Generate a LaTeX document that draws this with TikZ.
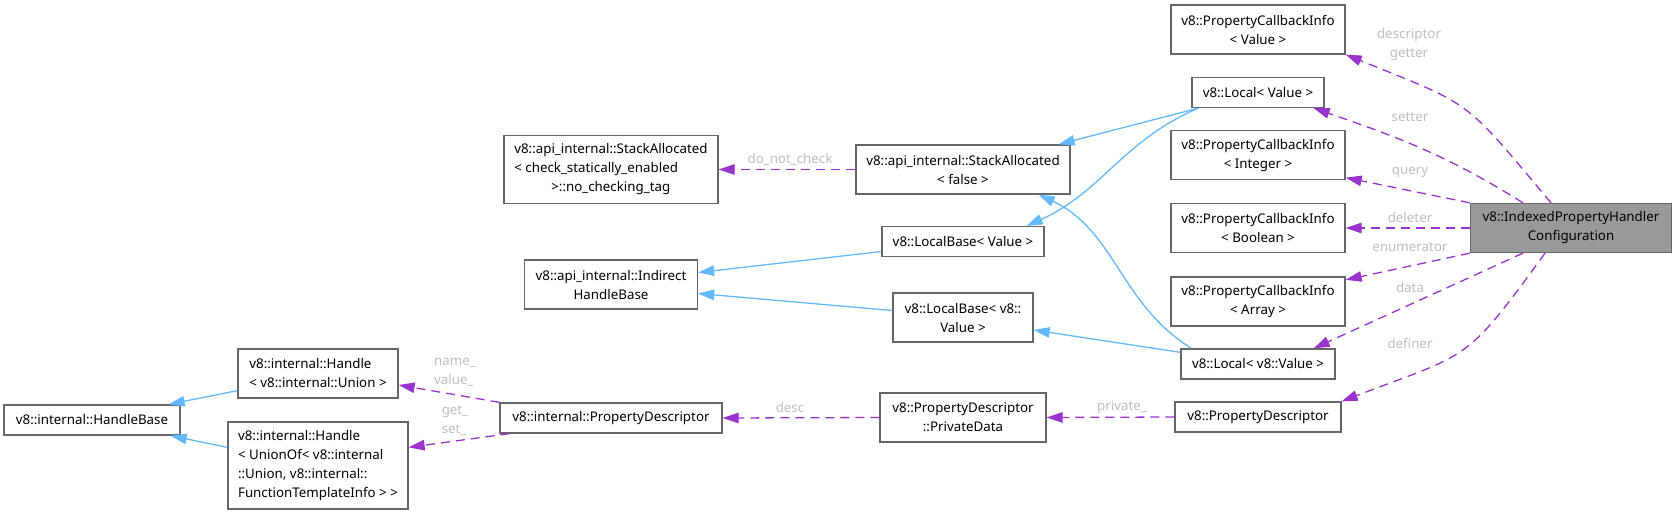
\documentclass[tikz,border=0pt]{standalone}
\usepackage{fontspec}
\setmainfont{Noto Sans}
\usepackage{tikz}
\usetikzlibrary{arrows.meta}

\definecolor{boxgray}{HTML}{666666}
\definecolor{selgray}{HTML}{999999}
\definecolor{inhblue}{HTML}{63B8FF}
\definecolor{usepurple}{HTML}{9A32CD}
\definecolor{lblgray}{HTML}{BEBEBE}

\begin{document}
\begin{tikzpicture}[x=1pt, y=-1pt, >={Triangle[length=16pt,width=10.5pt]},
    font=\fontsize{13.33}{19}\selectfont,
    cls/.style={draw=boxgray, fill=white, line width=1.3pt, align=center, inner sep=0pt},
    one/.style={minimum height=30pt},
    two/.style={minimum height=49pt},
    three/.style={minimum height=68pt},
    four/.style={minimum height=87pt},
    inh/.style={->, inhblue, line width=1.3pt},
    uses/.style={->, usepurple, line width=1.3pt, dash pattern=on 9pt off 6pt},
    lbl/.style={text=lblgray, inner sep=0pt, align=center}]
    \useasboundingbox (0,0) rectangle (1677,514);

    % Các lớp
    \node[cls, two, minimum width=201pt, fill=selgray] (iphc) at (1571,228) {v8::IndexedPropertyHandler\\Configuration};
    \node[cls, two, minimum width=174pt] (pciv) at (1258,29.5) {v8::PropertyCallbackInfo\\< Value >};
    \node[cls, one, minimum width=132pt] (lv) at (1258,92.5) {v8::Local< Value >};
    \node[cls, two, minimum width=174pt] (pcii) at (1258,155) {v8::PropertyCallbackInfo\\< Integer >};
    \node[cls, two, minimum width=174pt] (pcib) at (1258,228) {v8::PropertyCallbackInfo\\< Boolean >};
    \node[cls, two, minimum width=174pt] (pcia) at (1258,301.5) {v8::PropertyCallbackInfo\\< Array >};
    \node[cls, one, minimum width=154pt] (lvv) at (1258,364) {v8::Local< v8::Value >};
    \node[cls, one, minimum width=166pt] (pd) at (1258,417) {v8::PropertyDescriptor};

    \node[cls, two, minimum width=214pt] (saf) at (963,169.5) {v8::api\_internal::StackAllocated\\< false >};
    \node[cls, one, minimum width=162pt] (lbv) at (963,241.5) {v8::LocalBase< Value >};
    \node[cls, two, minimum width=140pt] (lbvv) at (963,317.5) {v8::LocalBase< v8::\\Value >};
    \node[cls, two, minimum width=166pt] (ppd) at (963,417.5) {v8::PropertyDescriptor\\::PrivateData};

    \node[cls, three, minimum width=214pt, align=left] (sac) at (611,169.5) {v8::api\_internal::StackAllocated\\< check\_statically\_enabled\\\hspace*{37pt}>::no\_checking\_tag};
    \node[cls, two, minimum width=173pt] (ihb) at (611,284.5) {v8::api\_internal::Indirect\\HandleBase};
    \node[cls, one, minimum width=222pt] (ipd) at (611,418) {v8::internal::PropertyDescriptor};

    \node[cls, two, minimum width=160pt, align=left] (hu) at (318,373.5) {v8::internal::Handle\\< v8::internal::Union >};
    \node[cls, four, minimum width=180pt, align=left] (huo) at (318,465.5) {v8::internal::Handle\\< UnionOf< v8::internal\\::Union, v8::internal::\\FunctionTemplateInfo > >};
    \node[cls, one, minimum width=176pt] (hb) at (92,420) {v8::internal::HandleBase};

    % Kế thừa
    \draw[inh] ([xshift=7pt]lv.south west) -- ([xshift=-12pt]saf.north east);
    \draw[inh] ([xshift=7pt]lv.south west) to[out=203,in=24] ([xshift=-18pt]lbv.north east);
    \draw[inh] ([xshift=11pt]lvv.north west) to[out=148,in=-25] ([xshift=-32pt]saf.south east);
    \draw[inh] ([yshift=-4pt]lvv.north west) -- ([yshift=-12.5pt]lbvv.east);
    \draw[inh] ([yshift=-10pt]lbv.west) -- ([yshift=12pt]ihb.east);
    \draw[inh] ([yshift=7pt]lbvv.west) -- ([yshift=-9pt]ihb.east);
    \draw[inh] ([yshift=8pt]hu.south west) -- ([xshift=-12pt]hb.north east);
    \draw[inh] ([yshift=-26pt]huo.north west) -- ([xshift=-10pt]hb.south east);

    % Quan hệ sử dụng
    \draw[uses] ([xshift=-20pt]iphc.north) to[out=130,in=-22,looseness=1.4] (pciv.south east);
    \draw[uses] ([xshift=-48pt]iphc.north) to[out=148,in=-19] ([xshift=-11pt]lv.south east);
    \draw[uses] (iphc.north west) -- ([yshift=2.5pt]pcii.south east);
    \draw[uses] (iphc.west) -- (pcib.east);
    \draw[uses] (iphc.south west) -- ([yshift=-3.5pt]pcia.north east);
    \draw[uses] ([xshift=-48pt]iphc.south) -- ([xshift=-22pt]lvv.north east);
    \draw[uses] ([xshift=-26pt]iphc.south) to[out=234,in=21,looseness=1.4] (pd.north east);
    \draw[uses] (saf.west) -- (sac.east);
    \draw[uses] (pd.west) -- (ppd.east);
    \draw[uses] (ppd.west) -- (ipd.east);
    \draw[uses] (ipd.north west) -- ([yshift=-11.5pt]hu.east);
    \draw[uses] ([xshift=10pt]ipd.south west) -- ([yshift=-26pt]huo.north east);

    % Nhãn
    \node[lbl] (ldesc) at (1409,45) {descriptor\\getter};
    \node[lbl] (lset) at (1410,117) {setter};
    \node[lbl] (lquery) at (1410,172) {query};
    \node[lbl] (ldel) at (1410,217) {deleter};
    \node[lbl] (lenum) at (1410,247) {enumerator};
    \node[lbl] (ldata) at (1410,287) {data};
    \node[lbl] (ldef) at (1410,343) {definer};
    \node[lbl] (lcheck) at (790,159) {do\_not\_check};
    \node[lbl] (ldsc) at (790,407) {desc};
    \node[lbl] (lpriv) at (1122,407) {private\_};
    \node[lbl, align=left] (lname) at (455,372) {name\_\\value\_};
    \node[lbl, align=left] (lget) at (455,421) {get\_\\set\_};
\end{tikzpicture}
\end{document}
